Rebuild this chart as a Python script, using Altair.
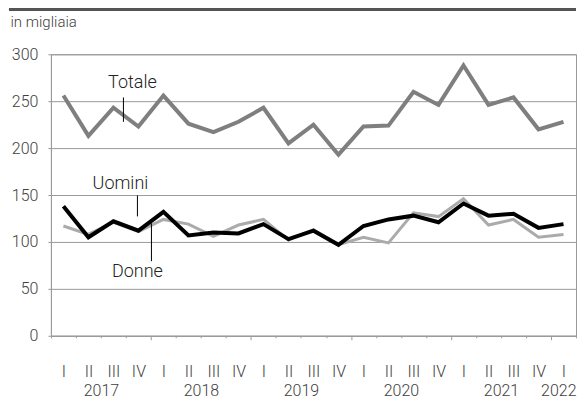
import altair as alt
import pandas as pd

# Quarter labels (2017 Q1 .. 2022 Q1)
quarters = ["I", "II", "III", "IV"] * 5 + ["I"]
years = ["2017", "2018", "2019", "2020", "2021", "2022"]
year_pos = [1.5, 5.5, 9.5, 13.5, 17.5, 20.5]

# Values in thousands
totale = [256, 213, 243, 223, 256, 226, 217, 228, 243, 205, 225, 193, 223, 224, 260, 246, 288, 246, 254, 220, 228]
uomini = [138, 105, 122, 112, 132, 107, 110, 109, 119, 103, 112, 97, 117, 124, 128, 121, 141, 128, 130, 115, 119]
donne = [117, 108, 121, 111, 124, 119, 106, 118, 124, 102, 113, 97, 105, 99, 131, 127, 146, 118, 124, 105, 108]

# Series annotations (label, x position in quarter index, y value)
ann_label = ["Totale", "Uomini", "Donne"]
ann_x = [2.76, 2.28, 2.96]
ann_y = [264, 156, 62.5]
lead_x = [2.40, 2.96, 3.52]
lead_y = [254, 149.5, 119.8]
lead_y2 = [228, 127.2, 79.5]

idx = list(range(len(quarters)))
df = pd.DataFrame({"idx": idx, "Totale": totale, "Uomini": uomini, "Donne": donne})
ann = pd.DataFrame({"label": ann_label, "x": ann_x, "y": ann_y})
lead = pd.DataFrame({"x": lead_x, "y": lead_y, "y2": lead_y2})

FONT = "Roboto"
TXT = "#404040"
GRID = "#9a9a9a"
W = 526

boundaries = [i - 0.5 for i in range(len(quarters) + 1)]
major = [3.5, 7.5, 11.5, 15.5, 19.5]

xscale = alt.Scale(domain=[-0.5, len(quarters) - 0.5], nice=False, zero=False)
yscale = alt.Scale(domain=[0, 300], nice=False, zero=True)

yaxis = alt.Axis(
    values=[0, 50, 100, 150, 200, 250, 300], grid=True, gridColor=GRID, gridWidth=1,
    tickSize=3, tickColor=GRID, domainColor=GRID, labelPadding=10,
    labelFontSize=16, labelFont=FONT, labelFontWeight=300, labelColor=TXT,
    title="in migliaia", titleAngle=0, titleX=-41, titleY=-28, titleAlign="left",
    titleBaseline="alphabetic", titleFontSize=15, titleFont=FONT, titleFontWeight=300,
    titleColor=TXT,
)

tick_axis = alt.Axis(
    orient="bottom", values=boundaries, labels=False, grid=False, title=None,
    tickColor=GRID, domainColor=GRID,
    tickSize={"condition": {"test": "indexof(%s, datum.value) >= 0" % str(major), "value": 4}, "value": 2},
)

quarter_expr = "[%s][datum.value %% 4]" % ",".join("'%s'" % q for q in quarters[:4])
quarter_axis = alt.Axis(
    orient="bottom", values=idx, labelExpr=quarter_expr, ticks=False, tickSize=0,
    domain=False, grid=False, title=None, labelPadding=41, labelBaseline="alphabetic",
    labelFlush=False, labelOverlap=False, labelBound=False,
    labelFontSize=16, labelFont=FONT, labelFontWeight=300, labelColor=TXT,
)

year_expr = "datum.value >= 20 ? '%s' : toString(%s + floor(datum.value / 4))" % (years[-1], years[0])
year_axis = alt.Axis(
    orient="bottom", values=year_pos, labelExpr=year_expr, ticks=False, tickSize=0,
    domain=False, grid=False, title=None, labelPadding=60, labelBaseline="alphabetic",
    labelFlush=True, labelOverlap=False, labelBound=False,
    labelFontSize=16, labelFont=FONT, labelFontWeight=300, labelColor=TXT,
)

base = alt.Chart(df)

top_rule = alt.Chart(df).mark_rule(color="#555555", strokeWidth=2).encode(
    x=alt.value(-42), x2=alt.value(W), y=alt.value(-45)
)

tot = base.mark_line(color="#7f7f7f", strokeWidth=4).encode(
    x=alt.X("idx:Q", scale=xscale, axis=tick_axis),
    y=alt.Y("Totale:Q", scale=yscale, axis=yaxis),
)
don = base.mark_line(color="#ababab", strokeWidth=3).encode(
    x=alt.X("idx:Q", scale=xscale, axis=quarter_axis),
    y=alt.Y("Donne:Q", scale=yscale, axis=yaxis),
)
uom = base.mark_line(color="#000000", strokeWidth=4).encode(
    x=alt.X("idx:Q", scale=xscale, axis=year_axis),
    y=alt.Y("Uomini:Q", scale=yscale, axis=yaxis),
)

texts = alt.Chart(ann).mark_text(
    font=FONT, fontSize=18, fontWeight=300, color="#222222", align="center", baseline="alphabetic"
).encode(
    x=alt.X("x:Q", scale=xscale, axis=None),
    y=alt.Y("y:Q", scale=yscale, axis=yaxis),
    text="label:N",
)
leaders = alt.Chart(lead).mark_rule(color="#000000", strokeWidth=1).encode(
    x=alt.X("x:Q", scale=xscale, axis=None),
    y=alt.Y("y:Q", scale=yscale, axis=yaxis),
    y2="y2:Q",
)

chart = (
    alt.layer(top_rule, tot, don, uom, texts, leaders)
    .resolve_axis(x="independent")
    .properties(width=W, height=282, padding=0, background="white")
    .configure_view(stroke=GRID, strokeWidth=1)
)

chart.save("out.html", embed_options={"renderer": "svg", "actions": False})
